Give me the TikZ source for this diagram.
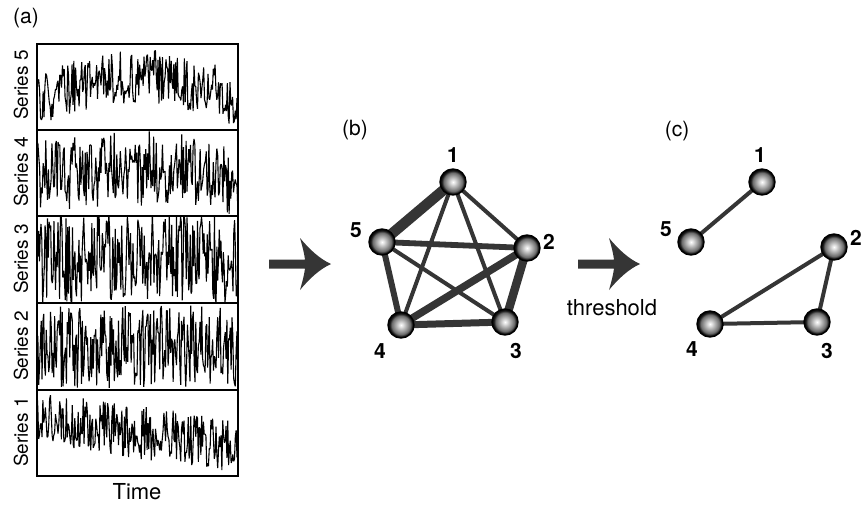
\documentclass[tikz,border=0pt]{standalone}
\usepackage{fontspec}
\setmainfont{TeX Gyre Heros}
\pgfdeclareradialshading{sphereshade}{\pgfpoint{0bp}{0bp}}{%
  color(0bp)=(white); color(4bp)=(black!12); color(12bp)=(black!38);
  color(18bp)=(black!58); color(21.5bp)=(black!88); color(25bp)=(black); color(50bp)=(black)}
\definecolor{edgegray}{HTML}{353535}
\tikzset{
  sphere/.style={circle, minimum size=26pt, inner sep=0pt, shading=sphereshade, draw=black, line width=1.4pt},
  numlab/.style={font=\fontsize{21}{24}\selectfont\bfseries, inner sep=0pt},
  plainlab/.style={font=\fontsize{21}{24}\selectfont, inner sep=0pt},
  biglab/.style={font=\fontsize{22}{24}\selectfont, inner sep=0pt},
  serieslab/.style={font=\fontsize{19}{22}\selectfont, inner sep=0pt, rotate=90},
  edgeline/.style={draw=edgegray, line cap=round},
  boxline/.style={draw=black, line width=1.1pt},
  signal/.style={draw=black, line width=1.1pt, line join=bevel},
  bigarrow/.pic={
    \fill[edgegray] (0,-4.5) -- (36,-4.5) .. controls (35,-12) and (33,-19) .. (31,-26)
      .. controls (41,-14) and (51,-5) .. (62,0)
      .. controls (51,5) and (41,14) .. (31,26)
      .. controls (33,19) and (35,12) .. (36,4.5) -- (0,4.5) -- cycle;
  }
}
\begin{document}
\begin{tikzpicture}[x=1pt,y=-1pt]
\useasboundingbox (0,0) rectangle (862,504);
\pgfmathsetseed{4271}
% panel (a)
\node[plainlab] (la) at (26,18) {(a)};
\begin{scope}
\clip (37,44) rectangle (238,130);
\draw[signal] plot[domain=0:1,samples=230,variable=\t] ({37+201*\t},{100-24*sin(180*\t)+27*rand});
\end{scope}
\begin{scope}
\clip (37,130) rectangle (238,216);
\draw[signal] plot[domain=0:1,samples=230,variable=\t] ({37+201*\t},{180-12*sin(180*\t)+38*rand});
\end{scope}
\begin{scope}
\clip (37,216) rectangle (238,303);
\draw[signal] plot[domain=0:1,samples=250,variable=\t] ({37+201*\t},{262-6*sin(180*\t)+44*rand});
\end{scope}
\begin{scope}
\clip (37,303) rectangle (238,390);
\draw[signal] plot[domain=0:1,samples=240,variable=\t] ({37+201*\t},{347+42*rand});
\end{scope}
\begin{scope}
\clip (37,390) rectangle (238,476);
\draw[signal] plot[domain=0:1,samples=240,variable=\t] ({37+201*\t},{418+28*\t+27*rand});
\end{scope}
\draw[boxline] (37,44) rectangle (238,476);
\draw[boxline] (37,130) -- (238,130);
\draw[boxline] (37,216) -- (238,216);
\draw[boxline] (37,303) -- (238,303);
\draw[boxline] (37,390) -- (238,390);
\node[serieslab] (s5) at (21,85) {Series 5};
\node[serieslab] (s4) at (21,172) {Series 4};
\node[serieslab] (s3) at (21,259) {Series 3};
\node[serieslab] (s2) at (21,346) {Series 2};
\node[serieslab] (s1) at (21,432) {Series 1};
\node[biglab] (time) at (137,492) {Time};
% arrows
\pic at (269,264) {bigarrow};
\pic at (578,264) {bigarrow};
\node[biglab] (thr) at (612,308) {threshold};
% panel (b)
\node[plainlab] (lb) at (355,130) {(b)};
\coordinate (b1) at (453,182);
\coordinate (b2) at (527,248);
\coordinate (b3) at (505,322);
\coordinate (b4) at (401,325);
\coordinate (b5) at (382,242);
\draw[edgeline, line width=10.5pt] (b1) -- (b5);
\draw[edgeline, line width=8.5pt] (b2) -- (b3);
\draw[edgeline, line width=7.5pt] (b4) -- (b2);
\draw[edgeline, line width=7pt] (b4) -- (b3);
\draw[edgeline, line width=6pt] (b5) -- (b4);
\draw[edgeline, line width=5.8pt] (b5) -- (b2);
\draw[edgeline, line width=4pt] (b1) -- (b2);
\draw[edgeline, line width=4pt] (b1) -- (b4);
\draw[edgeline, line width=4pt] (b1) -- (b3);
\draw[edgeline, line width=4pt] (b5) -- (b3);
\node[sphere] (nb1) at (b1) {};
\node[sphere] (nb2) at (b2) {};
\node[sphere] (nb3) at (b3) {};
\node[sphere] (nb4) at (b4) {};
\node[sphere] (nb5) at (b5) {};
\node[numlab] (tb1) at (453,155) {1};
\node[numlab] (tb2) at (549,242) {2};
\node[numlab] (tb3) at (516,351) {3};
\node[numlab] (tb4) at (380,351) {4};
\node[numlab] (tb5) at (356,230) {5};
% panel (c)
\node[plainlab] (lc) at (677,131) {(c)};
\coordinate (c1) at (762,182);
\coordinate (c2) at (834,247);
\coordinate (c3) at (817,322);
\coordinate (c4) at (710,324);
\coordinate (c5) at (691,242);
\draw[edgeline, line width=4pt] (c5) -- (c1);
\draw[edgeline, line width=4pt] (c4) -- (c2);
\draw[edgeline, line width=4pt] (c2) -- (c3);
\draw[edgeline, line width=4pt] (c4) -- (c3);
\node[sphere] (nc1) at (c1) {};
\node[sphere] (nc2) at (c2) {};
\node[sphere] (nc3) at (c3) {};
\node[sphere] (nc4) at (c4) {};
\node[sphere] (nc5) at (c5) {};
\node[numlab] (tc1) at (760,155) {1};
\node[numlab] (tc2) at (856,238) {2};
\node[numlab] (tc3) at (827,351) {3};
\node[numlab] (tc4) at (692,349) {4};
\node[numlab] (tc5) at (666,229) {5};
\end{tikzpicture}
\end{document}
